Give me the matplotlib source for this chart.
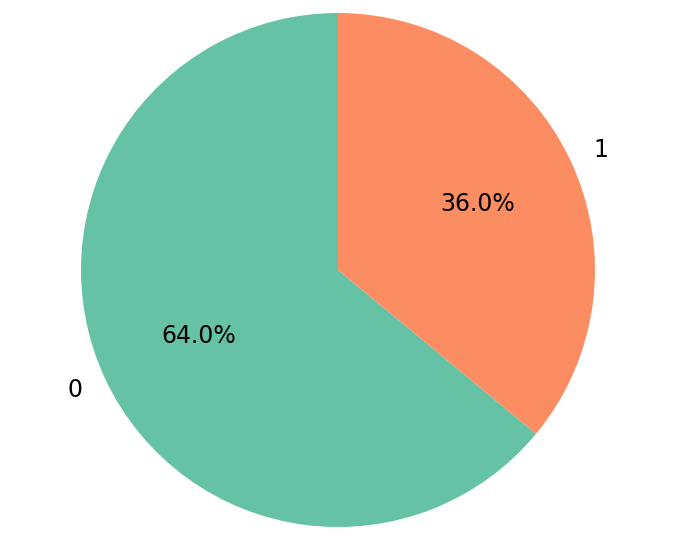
import matplotlib.pyplot as plt

labels = ['0', '1']
shares = [64.0, 36.0]
colors = ['#66c2a5', '#fc8d62']

fig = plt.figure(figsize=(6.77, 5.4), dpi=100)
ax = fig.add_axes([0, 0, 1, 1])

ax.pie(shares, labels=labels, colors=colors, autopct='%1.1f%%',
       startangle=90, textprops={'fontsize': 17})

# pie centred at (338, 270) px with radius ~257 px
r = 257.0
ax.set_xlim(-338 / r, (677 - 338) / r)
ax.set_ylim(-(540 - 270) / r, 270 / r)
ax.set_aspect('auto')
ax.axis('off')

fig.savefig('out.png', dpi=100)
